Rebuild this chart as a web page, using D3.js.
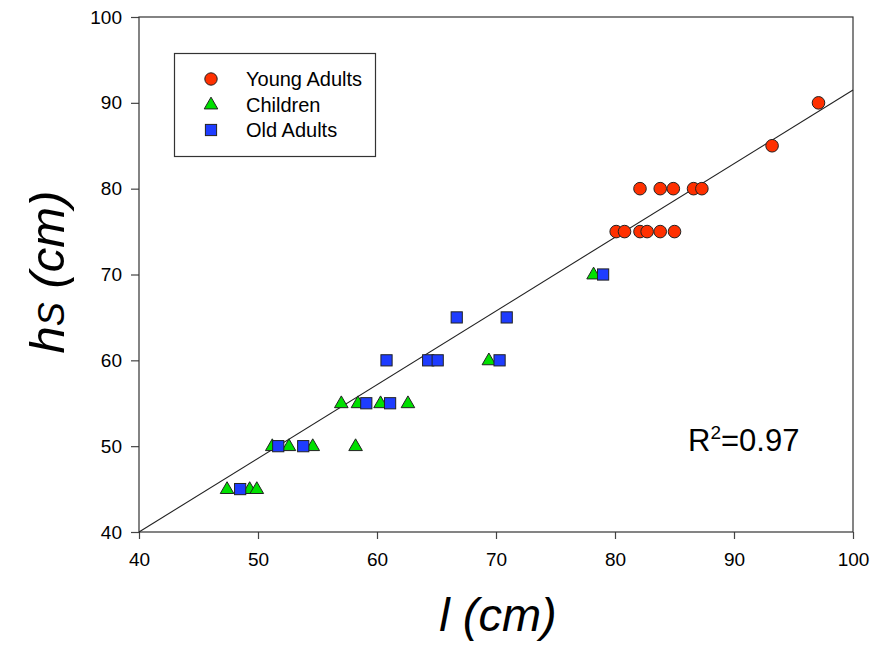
<!DOCTYPE html>
<html>
<head>
<meta charset="utf-8">
<script src="https://cdn.jsdelivr.net/npm/d3@7"></script>
<style>
  body { margin: 0; background: #fff; }
  svg { display: block; font-family: "Liberation Sans", Arial, sans-serif; }
</style>
</head>
<body>
<svg width="881" height="645"></svg>
<script>
// data: [l (cm), hs (cm)]
var youngL  = [80.1, 80.8, 82.1, 82.7, 83.8, 85.0, 82.1, 83.8, 84.9, 86.6, 87.3, 93.2, 97.1];
var youngH  = [75, 75, 75, 75, 75, 75, 80, 80, 80, 80, 80, 85, 90];
var childL  = [47.4, 49.3, 49.9, 51.2, 52.6, 54.6, 58.2, 57.0, 58.4, 60.3, 62.6, 69.4, 78.2];
var childH  = [45, 45, 45, 50, 50, 50, 50, 55, 55, 55, 55, 60, 70];
var oldL    = [48.5, 51.7, 53.8, 59.1, 61.1, 60.8, 64.3, 65.1, 70.3, 66.7, 70.9, 79.0];
var oldH    = [45, 50, 50, 55, 55, 60, 60, 60, 60, 65, 65, 70];
var xTicks  = [40, 50, 60, 70, 80, 90, 100];
var yTicks  = [40, 50, 60, 70, 80, 90, 100];
var seriesNames = ["Young Adults", "Children", "Old Adults"];
var fitLine = [[40, 40], [100, 91.5]];
var rSquared = "0.97";

(function() {
  var svg = d3.select("svg");
  var pLeft = 139, pRight = 853, pTop = 17, pBottom = 532;

  var x = d3.scaleLinear().domain([40, 100]).range([pLeft, pRight]);
  var y = d3.scaleLinear().domain([40, 100]).range([pBottom, pTop]);

  var red = "#ff3000", green = "#00e000", blue = "#1e3cff";

  function zip(a, b) { return a.map(function(v, i) { return [v, b[i]]; }); }

  // axes
  var gx = svg.append("g")
    .attr("transform", "translate(0," + pBottom + ")")
    .call(d3.axisBottom(x).tickValues(xTicks).tickSize(7).tickPadding(14).tickSizeOuter(0));
  var gy = svg.append("g")
    .attr("transform", "translate(" + pLeft + ",0)")
    .call(d3.axisLeft(y).tickValues(yTicks).tickSize(8).tickPadding(9).tickSizeOuter(0));
  [gx, gy].forEach(function(g) {
    g.attr("font-size", 19).attr("font-family", "'Liberation Sans', Arial, sans-serif");
    g.select(".domain").remove();
    g.selectAll("line").attr("stroke", "#444").attr("stroke-width", 1.2);
    g.selectAll("text").attr("fill", "#000");
  });

  // frame
  svg.append("rect")
    .attr("x", pLeft).attr("y", pTop)
    .attr("width", pRight - pLeft).attr("height", pBottom - pTop)
    .attr("fill", "none").attr("stroke", "#333").attr("stroke-width", 1.2);

  // regression line
  svg.append("path")
    .attr("d", d3.line().x(function(d) { return x(d[0]); }).y(function(d) { return y(d[1]); })(fitLine))
    .attr("stroke", "#222").attr("stroke-width", 1.1).attr("fill", "none");

  var tri = d3.symbol().type(d3.symbolTriangle).size(80);

  // young adults
  svg.append("g").selectAll("circle")
    .data(zip(youngL, youngH)).enter().append("circle")
      .attr("cx", function(d) { return x(d[0]); })
      .attr("cy", function(d) { return y(d[1]); })
      .attr("r", 6.3)
      .attr("fill", red).attr("stroke", "#222").attr("stroke-width", 1);

  // children
  svg.append("g").selectAll("path")
    .data(zip(childL, childH)).enter().append("path")
      .attr("d", tri)
      .attr("transform", function(d) { return "translate(" + x(d[0]) + "," + (y(d[1]) + 0.5) + ")"; })
      .attr("fill", green).attr("stroke", "#222").attr("stroke-width", 1);

  // old adults
  svg.append("g").selectAll("rect")
    .data(zip(oldL, oldH)).enter().append("rect")
      .attr("x", function(d) { return x(d[0]) - 5.6; })
      .attr("y", function(d) { return y(d[1]) - 5.6; })
      .attr("width", 11.2).attr("height", 11.2)
      .attr("fill", blue).attr("stroke", "#222").attr("stroke-width", 1);

  // legend
  var lg = svg.append("g");
  lg.append("rect")
    .attr("x", 174.5).attr("y", 53.5).attr("width", 201).attr("height", 103)
    .attr("fill", "#fff").attr("stroke", "#333").attr("stroke-width", 1.2);
  var rows = [79, 104.5, 130];
  lg.append("circle").attr("cx", 211).attr("cy", rows[0]).attr("r", 6.2)
    .attr("fill", red).attr("stroke", "#222");
  lg.append("path").attr("d", tri)
    .attr("transform", "translate(211," + (rows[1] + 0.5) + ")")
    .attr("fill", green).attr("stroke", "#222");
  lg.append("rect").attr("x", 205.4).attr("y", rows[2] - 5.6).attr("width", 11.2).attr("height", 11.2)
    .attr("fill", blue).attr("stroke", "#222");
  lg.selectAll("text.lab").data(seriesNames).enter().append("text")
    .attr("class", "lab")
    .attr("x", 246)
    .attr("y", function(d, i) { return rows[i] + 7; })
    .attr("font-size", 20)
    .text(function(d) { return d; });

  // R squared
  var rt = svg.append("text").attr("x", 688).attr("y", 451).attr("font-size", 31);
  rt.append("tspan").text("R");
  rt.append("tspan").attr("font-size", 19).attr("dy", -12).text("2");
  rt.append("tspan").attr("dy", 12).text("=" + rSquared);

  // axis titles
  svg.append("text")
    .attr("x", 498).attr("y", 631)
    .attr("text-anchor", "middle")
    .attr("font-size", 47).attr("font-style", "italic")
    .text("l (cm)");

  var yt = svg.append("text")
    .attr("transform", "translate(64,272) rotate(-90)")
    .attr("text-anchor", "middle")
    .attr("font-size", 49).attr("font-style", "italic");
  yt.append("tspan").text("h");
  yt.append("tspan").attr("font-size", 36).text("S");
  yt.append("tspan").text(" (cm)");
})();
</script>
</body>
</html>
